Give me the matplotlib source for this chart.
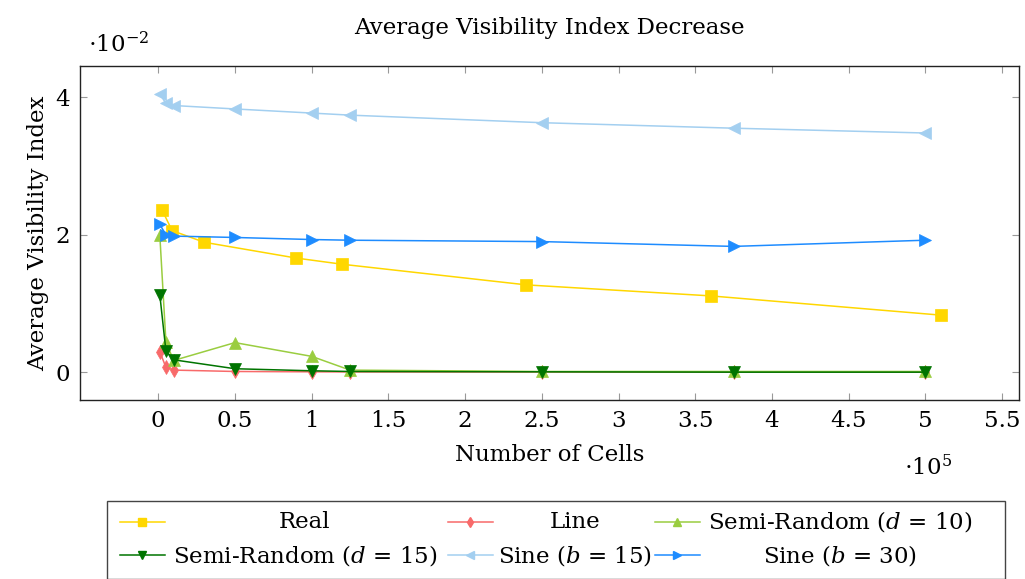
import matplotlib
matplotlib.use("Agg")
import matplotlib.pyplot as plt
from matplotlib.lines import Line2D

plt.rcParams["font.family"] = ["DejaVu Serif"]
plt.rcParams["mathtext.fontset"] = "dejavuserif"

# number of cells
real_x = [2500, 9000, 30000, 90000, 120000, 240000, 360000, 510000]
synth_x = [1000, 5000, 10000, 50000, 100000, 125000, 250000, 375000, 500000]

# average visibility index
real_y = [0.0236, 0.0206, 0.0189, 0.0166, 0.0157, 0.0127, 0.0111, 0.0083]
line_y = [0.0030, 0.0007, 0.0003, 0.0001, 0.00005, 0.00003, 0.00002, 0.00001, 0.00001]
semi10_y = [0.0200, 0.0044, 0.0017, 0.0043, 0.0023, 0.0003, 0.0001, 0.0001, 0.0001]
semi15_y = [0.0113, 0.0031, 0.0018, 0.0005, 0.0002, 0.0001, 0.00005, 0.0, 0.0]
sine15_y = [0.0405, 0.0391, 0.0388, 0.0383, 0.0377, 0.0374, 0.0363, 0.0355, 0.0348]
sine30_y = [0.0215, 0.0200, 0.0198, 0.0196, 0.0193, 0.0192, 0.0190, 0.0183, 0.0192]

series = [
    ("Real", real_x, real_y, "#ffd700", "s", 8),
    ("Line", synth_x, line_y, "#f86a6a", "d", 7),
    (r"Semi-Random ($d$ = 10)", synth_x, semi10_y, "#9acd40", "^", 8),
    (r"Semi-Random ($d$ = 15)", synth_x, semi15_y, "#007400", "v", 8),
    (r"Sine ($b$ = 15)", synth_x, sine15_y, "#a3cff0", "<", 8),
    (r"Sine ($b$ = 30)", synth_x, sine30_y, "#1e8cff", ">", 8),
]

XS, YS = 1e5, 1e-2
W, H = 1025, 579
FS = 16.5
fig = plt.figure(figsize=(W / 100, H / 100), dpi=100)
ax = fig.add_axes([80 / W, 1 - 400 / H, 939 / W, 334 / H])

for label, xs, ys, color, marker, ms in series:
    ax.plot([x / XS for x in xs], [y / YS for y in ys], color=color, lw=1.1,
            marker=marker, markersize=ms, markeredgewidth=0.5, markeredgecolor=color)

ax.set_xlim(-0.51, 5.61)
ax.set_ylim(-0.405, 4.455)
ax.set_xticks([0, 0.5, 1, 1.5, 2, 2.5, 3, 3.5, 4, 4.5, 5, 5.5])
ax.set_xticklabels(["0", "0.5", "1", "1.5", "2", "2.5", "3", "3.5", "4", "4.5", "5", "5.5"])
ax.set_yticks([0, 2, 4])
ax.tick_params(direction="in", length=5, width=0.8, color="#999999", labelsize=FS,
               top=True, right=True, pad=7)
for spine in ax.spines.values():
    spine.set_linewidth(1.0)
    spine.set_color("#222222")

ax.set_title("Average Visibility Index Decrease", fontsize=FS, pad=23)
ax.set_xlabel("Number of Cells", fontsize=FS, labelpad=9)
ax.set_ylabel("Average Visibility Index", fontsize=FS, labelpad=5)
fig.text(88 / W, 1 - 45 / H, r"$\cdot10^{-2}$", fontsize=FS, ha="left", va="center")
fig.text(928 / W, 1 - 468 / H, r"$\cdot10^{5}$", fontsize=FS, ha="center", va="center")

# legend drawn as a pgfplots-style table
fig.add_artist(plt.Rectangle((107 / W, 0), (1005 - 107) / W, (579 - 501) / H,
                             transform=fig.transFigure, fill=False, edgecolor="#444444", lw=1.0))
col_sample = [120, 448, 655]
col_text = [305, 575, 840]
row_y = [522, 555]
for i, (label, xs, ys, color, marker, ms) in enumerate(series):
    r, c = divmod(i, 3)
    x0 = col_sample[c]
    y0 = 1 - row_y[r] / H
    fig.add_artist(Line2D([x0 / W, (x0 + 45) / W], [y0, y0], transform=fig.transFigure,
                          color=color, lw=1.1))
    fig.add_artist(Line2D([(x0 + 22) / W], [y0], transform=fig.transFigure, color=color,
                          marker=marker, markersize=ms * 0.8, markeredgecolor=color))
    fig.text(col_text[c] / W, y0, label, fontsize=FS, ha="center", va="center")

fig.savefig("out.png", dpi=100)
